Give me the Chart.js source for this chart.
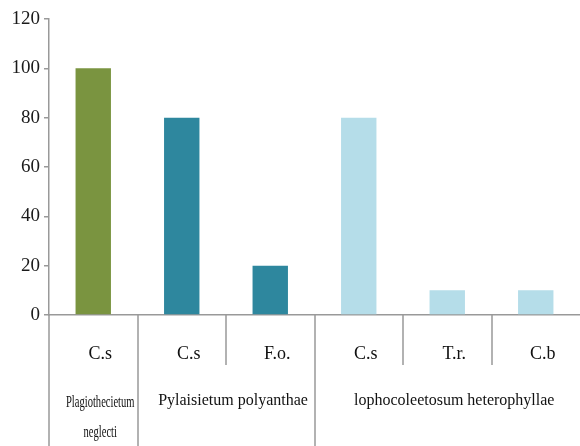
<!DOCTYPE html>
<html>
<head>
<meta charset="utf-8">
<script src="https://cdn.jsdelivr.net/npm/chart.js@4"></script>
<style>
  html, body { margin: 0; padding: 0; background: #fff; }
  #wrap { width: 580px; height: 446px; }
</style>
</head>
<body>
<div id="wrap"><canvas id="chart"></canvas></div>
<script>
// data
const species = ['C.s', 'C.s', 'F.o.', 'C.s', 'T.r.', 'C.b'];
const values = [100, 80, 20, 80, 10, 10];
const groupNames = [['Plagiothecietum', 'neglecti'], ['Pylaisietum polyanthae'], ['lophocoleetosum heterophyllae']];
const groupSizes = [1, 2, 3];
const groupColors = ['#7a9440', '#2e879e', '#b5dde9'];
const yTicks = [0, 20, 40, 60, 80, 100, 120];

// colour per bar, from the group it belongs to
const barColors = [];
groupSizes.forEach((n, g) => { for (let i = 0; i < n; i++) barColors.push(groupColors[g]); });

// separators + group names under the axis
const groupAxis = {
  id: 'groupAxis',
  afterDraw(chart) {
    const ctx = chart.ctx, x = chart.scales.x, area = chart.chartArea;
    const half = (x.getPixelForValue(1) - x.getPixelForValue(0)) / 2;
    const bottom = chart.height;
    const starts = [0];
    groupSizes.forEach(n => starts.push(starts[starts.length - 1] + n));

    ctx.save();
    ctx.strokeStyle = '#999';
    ctx.lineWidth = 1.5;
    // last boundary sits just off the right edge in the original
    for (let i = 0; i < species.length; i++) {
      const px = Math.round(x.getPixelForValue(i) - half);
      const full = starts.includes(i);
      ctx.beginPath();
      ctx.moveTo(px, area.bottom);
      ctx.lineTo(px, full ? bottom : area.bottom + 50);
      ctx.stroke();
    }

    ctx.fillStyle = '#111';
    ctx.textAlign = 'center';
    ctx.textBaseline = 'middle';
    groupNames.forEach((lines, g) => {
      const a = x.getPixelForValue(starts[g]) - half;
      const b = x.getPixelForValue(starts[g + 1]) - half;
      const cx = (a + b) / 2 + 7;
      if (lines.length > 1) {
        // narrow label squeezed into one column
        ctx.font = '17px "Liberation Serif"';
        lines.forEach((t, k) => {
          ctx.save();
          ctx.translate(cx, area.bottom + 88 + k * 30);
          ctx.scale(0.62, 1);
          ctx.fillText(t, 0, 0);
          ctx.restore();
        });
      } else {
        ctx.font = '16px "Liberation Serif"';
        ctx.fillText(lines[0], cx, area.bottom + 86);
      }
    });
    ctx.restore();
  }
};

new Chart(document.getElementById('chart'), {
  type: 'bar',
  data: {
    labels: species,
    datasets: [{
      data: values,
      backgroundColor: barColors,
      borderWidth: 0,
      barPercentage: 0.4,
      categoryPercentage: 1
    }]
  },
  options: {
    responsive: true,
    maintainAspectRatio: false,
    animation: false,
    layout: { padding: { top: 19, right: -1, left: 0, bottom: 0 } },
    plugins: { legend: { display: false }, tooltip: { enabled: false } },
    scales: {
      x: {
        afterFit(s) { s.height = 131; },
        grid: { display: false },
        border: { color: '#999', width: 1.5 },
        ticks: {
          color: '#111',
          font: { family: 'Liberation Serif', size: 18 },
          labelOffset: 7,
          padding: 20,
          maxRotation: 0
        }
      },
      y: {
        min: 0,
        max: 120,
        afterFit(s) { s.width = 49; },
        afterBuildTicks(s) { s.ticks = yTicks.map(v => ({ value: v })); },
        grid: { drawOnChartArea: false, tickLength: 5, color: '#999', lineWidth: 1.5 },
        border: { color: '#999', width: 1.5 },
        ticks: {
          color: '#1a1a1a',
          font: { family: 'Liberation Serif', size: 19 },
          padding: 4
        }
      }
    }
  },
  plugins: [groupAxis]
});
</script>
</body>
</html>
